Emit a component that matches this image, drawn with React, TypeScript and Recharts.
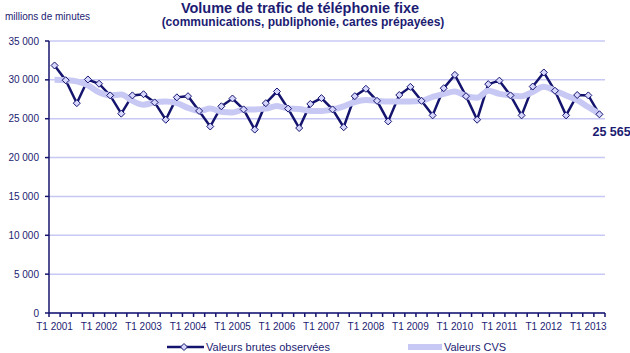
import { LineChart, Line, XAxis, YAxis, CartesianGrid, Legend } from 'recharts';

// quarterly series, T1 2001 -> T2 2013 (millions de minutes)
const years = [2001, 2002, 2003, 2004, 2005, 2006, 2007, 2008, 2009, 2010, 2011, 2012, 2013];
const quarterNames = ['T1', 'T2', 'T3', 'T4'];

const rawValues = [
    31850, 29950, 27000, 30050, 29500, 28000, 25650, 28000, 28150, 27100,
    24870, 27750, 27900, 26000, 24000, 26600, 27600, 26200, 23600, 27000,
    28500, 26300, 23800, 26900, 27650, 26200, 23900, 27900, 28850, 27300,
    24650, 28050, 29100, 27300, 25430, 28930, 30640, 27900, 24870, 29450,
    29900, 28000, 25430, 29140, 30950, 28600, 25430, 28050, 28000, 25565,
];

const cvsValues = [
    30000, 29950, 29800, 29300, 28400, 28000, 28100, 27300, 26800, 27100,
    27200, 27000, 26400, 26000, 26300, 25900, 25800, 26200, 26200, 26300,
    26650, 26300, 26250, 26000, 26000, 26200, 26600, 27150, 27400, 27300,
    27200, 27200, 27200, 27300, 27800, 28200, 28500, 27900, 27700, 28600,
    28200, 28000, 27900, 28450, 29100, 28600, 28000, 27400, 26500, 25600,
];

const yTicks = [0, 5000, 10000, 15000, 20000, 25000, 30000, 35000];

const categories: string[] = [];
years.forEach((yr) => quarterNames.forEach((q) => categories.push(`${q} ${yr}`)));

const chartData = rawValues.map((v, i) => ({
    label: categories[i],
    brut: v,
    cvs: cvsValues[i],
}));

const NAVY = '#14146e';
const TEXT = '#1c1c72';
const LAVENDER = '#c8c8f4';
const FONT = '"Liberation Sans", Arial, sans-serif';

const formatThousands = (n: number) => n.toString().replace(/\B(?=(\d{3})+(?!\d))/g, ' ');

// eslint-disable-next-line @typescript-eslint/no-explicit-any
const Diamond = (props: any) => {
    const { cx, cy, index } = props;
    if (cx == null || cy == null) return null;
    const r = 3.5;
    return (
        <polygon
            key={`d-${index}`}
            points={`${cx},${cy - r} ${cx + r},${cy} ${cx},${cy + r} ${cx - r},${cy}`}
            fill="#d6d6ff"
            stroke={NAVY}
            strokeWidth={1}
        />
    );
};

// Excel style category axis: marks between quarters, label on each T1
// eslint-disable-next-line @typescript-eslint/no-explicit-any
const QuarterTick = (props: any) => {
    const { x, y, payload, index } = props;
    const half = payload && payload.offset ? payload.offset : 5.56;
    const last = index === chartData.length - 1;
    return (
        <g>
            <line x1={x - half} y1={y} x2={x - half} y2={y + 4} stroke={NAVY} strokeWidth={1.5} />
            {last && <line x1={x + half} y1={y} x2={x + half} y2={y + 4} stroke={NAVY} strokeWidth={1.5} />}
            {index % 4 === 0 && (
                <text x={x} y={y + 16.5} textAnchor="middle" fill={TEXT} fontSize={10} fontFamily={FONT}>
                    {payload.value}
                </text>
            )}
        </g>
    );
};

// eslint-disable-next-line @typescript-eslint/no-explicit-any
const lastValueLabel = (props: any) => {
    const { x, y, index, value } = props;
    if (index !== chartData.length - 1) return null;
    return (
        <text
            key="last-label"
            x={x - 7}
            y={y + 22}
            fill={TEXT}
            fontSize={12.5}
            fontWeight="bold"
            fontFamily={FONT}
        >
            {formatThousands(value)}
        </text>
    );
};

const LegendContent = () => (
    <div style={{ display: 'flex', justifyContent: 'flex-start', alignItems: 'center', fontFamily: FONT, fontSize: 11, color: TEXT, height: 16, paddingLeft: 167, marginTop: 2 }}>
        <svg width={37} height={10} style={{ marginRight: 2 }}>
            <line x1={0} y1={5} x2={37} y2={5} stroke={NAVY} strokeWidth={2.5} />
            <polygon points="17,1.5 20.5,5 17,8.5 13.5,5" fill="#d6d6ff" stroke={NAVY} strokeWidth={1} />
        </svg>
        <span>Valeurs brutes observées</span>
        <svg width={34} height={10} style={{ marginLeft: 78, marginRight: 2 }}>
            <line x1={0} y1={5} x2={34} y2={5} stroke={LAVENDER} strokeWidth={6} />
        </svg>
        <span>Valeurs CVS</span>
    </div>
);

export default function App() {
    return (
        <div style={{ position: 'absolute', left: 0, top: 0, width: 630, height: 353, background: '#fff', fontFamily: FONT }}>
            <div style={{ position: 'absolute', left: 0, top: 0, width: 600, textAlign: 'center', fontSize: 14.5, fontWeight: 'bold', color: TEXT, lineHeight: '17px' }}>
                Volume de trafic de téléphonie fixe
            </div>
            <div style={{ position: 'absolute', left: 0, top: 15, width: 606, textAlign: 'center', fontSize: 12, fontWeight: 'bold', color: TEXT, lineHeight: '14px' }}>
                (communications, publiphonie, cartes prépayées)
            </div>
            <div style={{ position: 'absolute', left: 5, top: 11, fontSize: 10, color: TEXT, lineHeight: '12px' }}>
                millions de minutes
            </div>
            <LineChart
                width={630}
                height={353}
                data={chartData}
                margin={{ top: 41, right: 25, left: 0, bottom: 0 }}
            >
                <CartesianGrid vertical={false} stroke={LAVENDER} strokeWidth={1.5} />
                <XAxis
                    dataKey="label"
                    scale="band"
                    interval={0}
                    height={24}
                    tickSize={0}
                    tickMargin={0}
                    tickLine={false}
                    axisLine={{ stroke: NAVY, strokeWidth: 1.5 }}
                    tick={<QuarterTick />}
                />
                <YAxis
                    width={49}
                    domain={[0, 35000]}
                    ticks={yTicks}
                    tickFormatter={formatThousands}
                    tickSize={4}
                    tickMargin={6}
                    axisLine={{ stroke: NAVY, strokeWidth: 1.5 }}
                    tickLine={{ stroke: NAVY, strokeWidth: 1.5 }}
                    tick={{ fill: TEXT, fontSize: 10, fontFamily: FONT }}
                />
                <Legend verticalAlign="bottom" height={16} content={<LegendContent />} />
                <Line
                    type="linear"
                    dataKey="brut"
                    name="Valeurs brutes observées"
                    stroke={NAVY}
                    strokeWidth={2.5}
                    dot={<Diamond />}
                    activeDot={false}
                    label={lastValueLabel}
                    isAnimationActive={false}
                />
                <Line
                    type="monotone"
                    dataKey="cvs"
                    name="Valeurs CVS"
                    stroke={LAVENDER}
                    strokeWidth={6}
                    dot={false}
                    activeDot={false}
                    isAnimationActive={false}
                />
            </LineChart>
        </div>
    );
}
